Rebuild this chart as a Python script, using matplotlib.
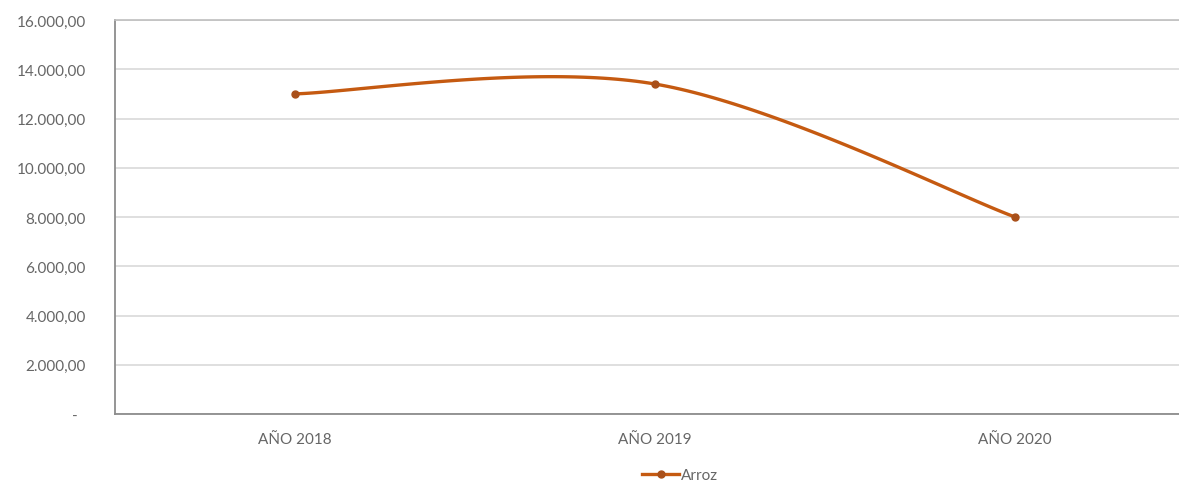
import numpy as np
import matplotlib
matplotlib.use("Agg")
import matplotlib.pyplot as plt
from matplotlib.lines import Line2D

categories = ["AÑO 2018", "AÑO 2019", "AÑO 2020"]
arroz = [13000, 13400, 8000]
yticks = [0, 2000, 4000, 6000, 8000, 10000, 12000, 14000, 16000]

plt.rcParams['font.family'] = ['Lato', 'DejaVu Sans']

W, H = 1179, 481
fig = plt.figure(figsize=(W / 100, H / 100), dpi=100)
ax = fig.add_axes([115 / W, 1 - 415 / H, (1195 - 115) / W, (415 - 21) / H])

x = np.arange(len(categories), dtype=float)
y = np.array(arroz, dtype=float)

# Excel-style smoothed line (cubic Bezier through the points)
def smooth(xp, yp, n=60):
    px = np.concatenate([[xp[0]], xp, [xp[-1]]])
    py = np.concatenate([[yp[0]], yp, [yp[-1]]])
    xs, ys = [], []
    for i in range(1, len(px) - 2):
        p0 = np.array([px[i - 1], py[i - 1]])
        p1 = np.array([px[i], py[i]])
        p2 = np.array([px[i + 1], py[i + 1]])
        p3 = np.array([px[i + 2], py[i + 2]])
        c1 = p1 + (p2 - p0) / 6.0
        c2 = p2 - (p3 - p1) / 6.0
        t = np.linspace(0, 1, n)[:, None]
        b = ((1 - t) ** 3) * p1 + 3 * ((1 - t) ** 2) * t * c1 + 3 * (1 - t) * t ** 2 * c2 + t ** 3 * p2
        xs.append(b[:, 0]); ys.append(b[:, 1])
    return np.concatenate(xs), np.concatenate(ys)

color = "#C55A11"
sx, sy = smooth(x, y)
ax.plot(sx, sy, color=color, lw=2.4, solid_capstyle="round", zorder=3)
ax.plot(x, y, 'o', color="#A9501A", ms=5, zorder=4)

ax.set_xlim(-0.5, 2.5)
ax.set_ylim(0, 16000)
ax.set_yticks(yticks)

def fmt(v):
    if v == 0:
        return "-  "
    s = f"{v:,.2f}"
    return s.replace(",", "X").replace(".", ",").replace("X", ".")

ax.set_yticklabels([fmt(v) for v in yticks])
ax.set_xticks(x)
ax.set_xticklabels(categories)
ax.tick_params(axis='both', length=0, colors="#666666", labelsize=11)
ax.tick_params(axis='y', pad=21)
ax.tick_params(axis='x', pad=13)

ax.grid(axis='y', color="#D9D9D9", lw=1.2)
ax.set_axisbelow(True)
ax.spines['right'].set_visible(False)
ax.spines['top'].set_color("#BFBFBF")
ax.spines['top'].set_linewidth(1.2)
ax.spines['left'].set_color("#8C8C8C")
ax.spines['left'].set_linewidth(1.3)
ax.spines['bottom'].set_color("#8C8C8C")
ax.spines['bottom'].set_linewidth(1.3)

handle = Line2D([], [], color=color, lw=2.4, marker='o', ms=5, markerfacecolor="#A9501A", markeredgecolor="#A9501A")
fig.legend([handle], ["Arroz"], loc='center', bbox_to_anchor=(680 / W, 1 - 476 / H),
           frameon=False, fontsize=11, labelcolor="#666666", handlelength=2.4, handletextpad=0.1)

fig.savefig("out.png", dpi=100, facecolor="white")
